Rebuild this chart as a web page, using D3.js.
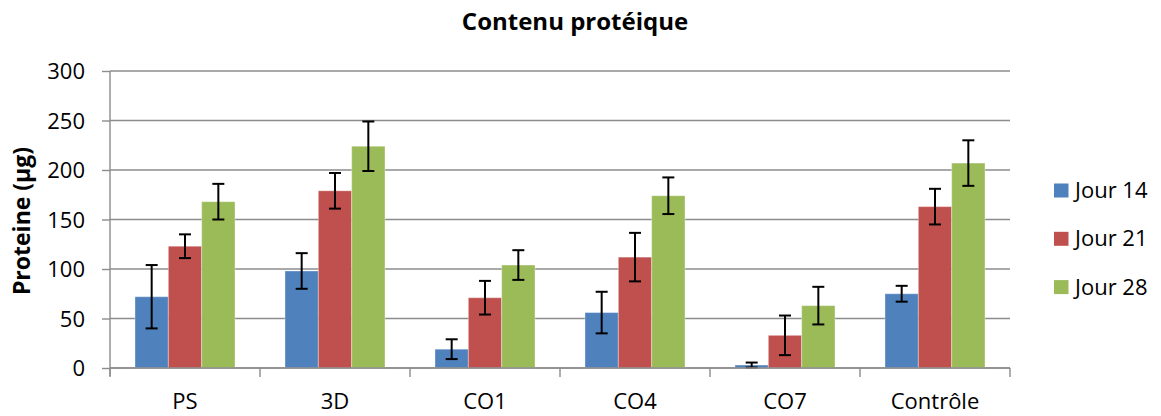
<!DOCTYPE html>
<html><head><meta charset="utf-8">
<script src="https://cdn.jsdelivr.net/npm/d3@7"></script>
<style>body{margin:0;background:#fff}svg{display:block}text{font-family:"Open Sans",sans-serif;fill:#000}</style>
</head><body><svg id="c" width="1161" height="416"></svg>
<script>
const categories = ["PS","3D","CO1","CO4","CO7","Contrôle"];
const seriesNames = ["Jour 14","Jour 21","Jour 28"];
const jour14 = [72, 98, 19, 56, 3, 75];
const jour21 = [123, 179, 71, 112, 33, 163];
const jour28 = [168, 224, 104, 174, 63, 207];
const err14 = [32, 18, 10, 21, 2.5, 8];
const err21 = [12, 18, 17, 24.5, 20, 18];
const err28 = [18, 25, 15, 18.5, 19, 23];
const yTicks = [0,50,100,150,200,250,300];
const colors = ["#4F81BD","#C0504D","#9BBB59"];
const values = [jour14, jour21, jour28];
const errors = [err14, err21, err28];

(function(){
const svg = d3.select("#c");
const pL = 110, pR = 1010, pT = 71, pB = 368;
const x0 = d3.scaleBand().domain(categories).range([pL,pR]).padding(0);
const x1 = d3.scaleBand().domain(seriesNames).range([0,x0.bandwidth()]).paddingInner(0).paddingOuter(0.75);
const y = d3.scaleLinear().domain([0,300]).range([pB,pT]);
const grid = "#8c8c8c";

svg.append("g").selectAll("line").data(yTicks).join("line")
  .attr("x1",pL).attr("x2",pR).attr("y1",d=>y(d)).attr("y2",d=>y(d))
  .attr("stroke",grid).attr("stroke-width",1.4);

const ya = svg.append("g").attr("transform",`translate(${pL},0)`)
  .call(d3.axisLeft(y).tickValues(yTicks).tickSize(8).tickPadding(17));
ya.select(".domain").attr("stroke",grid).attr("stroke-width",1.4).attr("d",`M0,${pT}V${pB+8}`);
ya.selectAll(".tick line").attr("stroke",grid).attr("stroke-width",1.4);
ya.selectAll("text").attr("font-size",22).attr("font-family","Open Sans").attr("fill","#000").attr("dy","0.36em");

const groups = svg.append("g").selectAll("g").data(categories).join("g")
  .attr("transform",d=>`translate(${x0(d)},0)`);
seriesNames.forEach((s,si)=>{
  groups.append("rect")
    .attr("x",x1(s)).attr("width",x1.bandwidth())
    .attr("y",(d,i)=>y(values[si][i])).attr("height",(d,i)=>y(0)-y(values[si][i]))
    .attr("fill",colors[si]).attr("stroke","rgba(255,255,255,0.35)").attr("stroke-width",1);
});
seriesNames.forEach((s,si)=>{
  const cx = x1(s)+x1.bandwidth()/2;
  groups.each(function(d,i){
    const g = d3.select(this);
    const v = values[si][i], e = errors[si][i];
    g.append("line").attr("x1",cx).attr("x2",cx).attr("y1",y(v+e)).attr("y2",y(v-e)).attr("stroke","#000").attr("stroke-width",2);
    [v+e,v-e].forEach(t=>g.append("line").attr("x1",cx-6).attr("x2",cx+6).attr("y1",y(t)).attr("y2",y(t)).attr("stroke","#000").attr("stroke-width",2));
  });
});

svg.append("line").attr("x1",pL).attr("x2",pR).attr("y1",pB).attr("y2",pB).attr("stroke",grid).attr("stroke-width",1.4);
const bounds = categories.map(c=>x0(c)).concat([pR]);
svg.append("g").selectAll("line").data(bounds).join("line")
  .attr("x1",d=>d).attr("x2",d=>d).attr("y1",pB).attr("y2",pB+9).attr("stroke",grid).attr("stroke-width",1.4);
svg.append("g").selectAll("text").data(categories).join("text")
  .attr("x",d=>x0(d)+x0.bandwidth()/2).attr("y",409).attr("text-anchor","middle")
  .attr("font-size",22).text(d=>d);

svg.append("text").attr("x",575).attr("y",30).attr("text-anchor","middle")
  .attr("font-size",24).attr("font-weight","bold").text("Contenu protéique");
svg.append("text").attr("transform","translate(30,221) rotate(-90)").attr("text-anchor","middle")
  .attr("font-size",23).attr("font-weight","bold").text("Proteine (µg)");

const lg = svg.append("g").selectAll("g").data(seriesNames).join("g")
  .attr("transform",(d,i)=>`translate(1054,${183.5+i*48.3})`);
lg.append("rect").attr("width",14.5).attr("height",14).attr("fill",(d,i)=>colors[i]);
lg.append("text").attr("x",21).attr("y",14.5).attr("font-size",22).text(d=>d);
})();
</script></body></html>
